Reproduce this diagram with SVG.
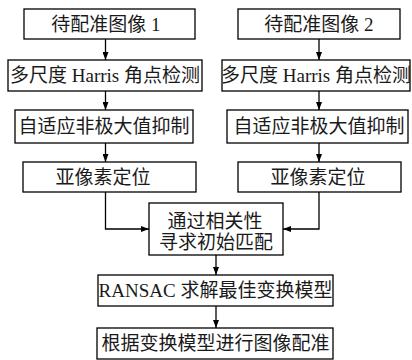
<svg xmlns="http://www.w3.org/2000/svg" width="412" height="360" viewBox="0 0 412 360">
<style>
.b{fill:#fff;stroke:#000;stroke-width:1.3}
.t{font-family:"Liberation Serif","Noto Sans CJK SC",serif;font-size:19px;fill:#1a1a1a;text-anchor:middle;dominant-baseline:central}
.c{fill:none;stroke:#000;stroke-width:1.3}
</style>
<defs>
<marker id="a" viewBox="0 0 8 6" refX="8" refY="3" markerWidth="8" markerHeight="6" markerUnits="userSpaceOnUse" orient="auto">
<path d="M0,0L8,3L0,6z" fill="#000"/>
</marker>
</defs>
<rect width="412" height="360" fill="#fff"/>
<g id="connectors">
<path class="c" d="M105.5,39V60" marker-end="url(#a)"/>
<path class="c" d="M105.5,91V110" marker-end="url(#a)"/>
<path class="c" d="M105.5,143V162" marker-end="url(#a)"/>
<path class="c" d="M105.5,192V229H149" marker-end="url(#a)"/>
<path class="c" d="M319,39V60" marker-end="url(#a)"/>
<path class="c" d="M319,91V110" marker-end="url(#a)"/>
<path class="c" d="M319,143V162" marker-end="url(#a)"/>
<path class="c" d="M319,192V229H283" marker-end="url(#a)"/>
<path class="c" d="M216,255V275" marker-end="url(#a)"/>
<path class="c" d="M216,306V328" marker-end="url(#a)"/>
</g>
<g id="n1"><rect class="b" x="24" y="9" width="171" height="30"/><text class="t" x="106" y="24">待配准图像 1</text></g>
<g id="n2"><rect class="b" x="8" y="60" width="194" height="31"/><text class="t" x="105" y="75.5">多尺度 Harris 角点检测</text></g>
<g id="n3"><rect class="b" x="15" y="110" width="178" height="33"/><text class="t" x="104" y="126.5">自适应非极大值抑制</text></g>
<g id="n4"><rect class="b" x="23" y="162" width="173" height="30"/><text class="t" x="103" y="177">亚像素定位</text></g>
<g id="n5"><rect class="b" x="238" y="9" width="162" height="30"/><text class="t" x="319" y="24">待配准图像 2</text></g>
<g id="n6"><rect class="b" x="222" y="60" width="188" height="31"/><text class="t" x="316" y="75.5">多尺度 Harris 角点检测</text></g>
<g id="n7"><rect class="b" x="227" y="110" width="181" height="33"/><text class="t" x="319" y="126.5">自适应非极大值抑制</text></g>
<g id="n8"><rect class="b" x="238" y="162" width="163" height="30"/><text class="t" x="318" y="177">亚像素定位</text></g>
<g id="n9"><rect class="b" x="149" y="203" width="134" height="52"/><text class="t" x="215" y="221">通过相关性</text><text class="t" x="216" y="242">寻求初始匹配</text></g>
<g id="n10"><rect class="b" x="98" y="275" width="235" height="31"/><text class="t" x="215.5" y="290.5">RANSAC 求解最佳变换模型</text></g>
<g id="n11"><rect class="b" x="97" y="328" width="236" height="31"/><text class="t" x="215.5" y="343.5">根据变换模型进行图像配准</text></g>
</svg>
